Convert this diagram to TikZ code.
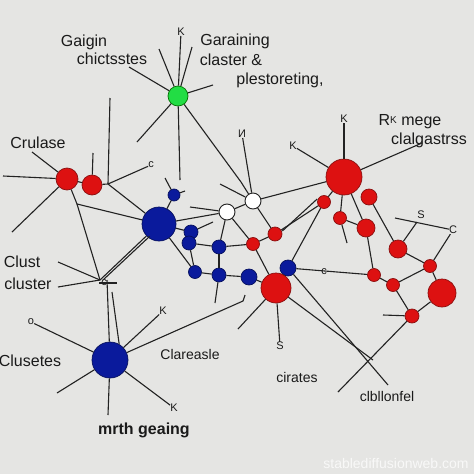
\documentclass[tikz,border=0pt]{standalone}
\usepackage{fontspec}
\setmainfont{Liberation Sans}
\definecolor{bgc}{HTML}{E5E5E3}
\definecolor{linec}{HTML}{222222}
\definecolor{nred}{HTML}{DD1111}
\definecolor{nreddark}{HTML}{8A1010}
\definecolor{nblue}{HTML}{0A1A9C}
\definecolor{nbluedark}{HTML}{06105E}
\definecolor{ngreen}{HTML}{22DD44}
\definecolor{textc}{HTML}{1A1A1A}
\tikzset{
  ln/.style={draw=linec, line width=1.1pt},
  rn/.style={circle, fill=nred, draw=nreddark, line width=0.7pt, inner sep=0pt},
  bn/.style={circle, fill=nblue, draw=nbluedark, line width=0.7pt, inner sep=0pt},
  wn/.style={circle, fill=white, draw=linec, line width=0.9pt, inner sep=0pt},
  gn/.style={circle, fill=ngreen, draw=green!45!black, line width=0.7pt, inner sep=0pt},
  lbl/.style={font=\fontsize{16}{19}\selectfont, text=textc, inner sep=0pt},
  mlbl/.style={font=\fontsize{14}{17}\selectfont, text=textc, inner sep=0pt},
  slbl/.style={font=\fontsize{11}{13}\selectfont, text=textc, inner sep=0pt},
}
\begin{document}
\begin{tikzpicture}[x=1pt,y=-1pt]
\fill[bgc] (0,0) rectangle (474,474);
\useasboundingbox (0,0) rectangle (474,474);

% nodes
\node[gn, minimum size=20pt] (g) at (178,96) {};
\node[rn, minimum size=22pt] (rA) at (67,179) {};
\node[rn, minimum size=20pt] (rB) at (92,185) {};
\node[bn, minimum size=34pt] (bC) at (159,224) {};
\node[bn, minimum size=12pt] (bD) at (174,195) {};
\node[bn, minimum size=14pt] (bE1) at (191,232) {};
\node[bn, minimum size=14pt] (bE2) at (189,243) {};
\node[bn, minimum size=14pt] (bF) at (219,247) {};
\node[bn, minimum size=13pt] (bG) at (195,272) {};
\node[bn, minimum size=14pt] (bH) at (219,275) {};
\node[bn, minimum size=16pt] (bI) at (249,277) {};
\node[bn, minimum size=16pt] (bJ) at (288,268) {};
\node[wn, minimum size=16pt] (wK) at (227,212) {};
\node[wn, minimum size=16pt] (wL) at (253,201) {};
\node[rn, minimum size=13pt] (rM) at (253,244) {};
\node[rn, minimum size=14pt] (rN) at (275,234) {};
\node[rn, minimum size=30pt] (rO) at (276,288) {};
\node[rn, minimum size=36pt] (rP) at (344,177) {};
\node[rn, minimum size=13pt] (rQ) at (324,202) {};
\node[rn, minimum size=13pt] (rR) at (340,218) {};
\node[rn, minimum size=16pt] (rS) at (369,197) {};
\node[rn, minimum size=18pt] (rT) at (366,228) {};
\node[rn, minimum size=18pt] (rU) at (398,249) {};
\node[rn, minimum size=13pt] (rV) at (430,266) {};
\node[rn, minimum size=13pt] (rW) at (374,275) {};
\node[rn, minimum size=13pt] (rX) at (393,285) {};
\node[rn, minimum size=28pt] (rY) at (442,293) {};
\node[rn, minimum size=14pt] (rZ) at (412,316) {};
\node[bn, minimum size=36pt] (bBL) at (110,360) {};

% free ends
\coordinate (k1) at (77,204);
\coordinate (j1) at (108,184);
\coordinate (cj) at (100,280);
\coordinate (cv) at (107,280);
\coordinate (gk) at (241,182);
\coordinate (zx) at (373,360);

% text labels
\node[lbl] (t1) at (84,42) {Gaigin};
\node[lbl] (t2) at (112,59) {chictsstes};
\node[lbl] (t3) at (235,41) {Garaining};
\node[lbl] (t4) at (231,60) {claster \&};
\node[lbl] (t5) at (280,80) {plestoreting,};
\node[lbl] (t6) at (38,143) {Crulase};
\node[lbl] (t7) at (410,122) {R\raisebox{0.3ex}{\fontsize{10}{10}\selectfont K} mege};
\node[lbl] (t8) at (429,140) {clalgastrss};
\node[lbl] (t9) at (22,262) {Clust};
\node[lbl] (t10) at (28,284) {cluster};
\node[lbl] (t11) at (30,361) {Clusetes};
\node[mlbl] (t12) at (190,354) {Clareasle};
\node[lbl, font=\fontsize{16}{19}\selectfont\bfseries] (t13) at (144,430) {mrth geaing};
\node[mlbl] (t14) at (297,377) {cirates};
\node[mlbl] (t15) at (387,396) {clbllonfel};
\node[text=white, opacity=0.75, font=\fontsize{14}{17}\selectfont, inner sep=0pt] (wm) at (396,463) {stablediffusionweb.com};

% small marks
\node[slbl] (m1) at (181,32) {K};
\node[slbl] (m2) at (344,119) {K};
\node[slbl] (m3) at (293,146) {K};
\node[slbl] (m4) at (242,134) {И};
\node[slbl] (m5) at (151,165) {c};
\node[slbl] (m6) at (104,283) {c};
\node[slbl] (m7) at (31,322) {o};
\node[slbl] (m8) at (163,311) {K};
\node[slbl] (m9) at (174,408) {K};
\node[slbl] (m10) at (280,346) {S};
\node[slbl] (m11) at (421,215) {S};
\node[slbl] (m12) at (453,230) {C};
\node[slbl] (m13) at (324,272) {c};

% edges: green
\draw[ln] (g) -- (129,67);
\draw[ln] (g) -- (159,49);
\draw[ln] (g) -- (m1);
\draw[ln] (g) -- (192,47);
\draw[ln] (g) -- (213,85);
\draw[ln] (g) -- (137,142);
\draw[ln] (g) -- (180,180);
\draw[ln] (g) -- (gk) -- (wL);
\draw[ln] (110,98) -- (j1);

% left reds
\draw[ln] (rA) -- (3,176);
\draw[ln] (rA) -- (12,232);
\draw[ln] (rA) -- (32,152);
\draw[ln] (rA) -- (rB);
\draw[ln] (rA) -- (k1) -- (bC);
\draw[ln] (k1) -- (cj);
\draw[ln] (rB) -- (j1) -- (bC);
\draw[ln] (rB) -- (93,153);
\draw[ln] (j1) -- (m5);

% cluster junction
\draw[ln] (58,287) -- (cj);
\draw[ln] (58,262) -- (cj);
\draw[ln] (cj) -- (bC);
\draw[ln] ([xshift=3pt]cj) -- ([xshift=3pt]bC.south west);
\draw[ln] (cv) -- (bBL);
\draw[ln] (bBL.60) -- (112,292);
\draw[ln] (m6.west) ++(-2,0) -- ++(18,0);

% bottom blue
\draw[ln] (bBL) -- (m7);
\draw[ln] (bBL) -- (57,393);
\draw[ln] (bBL) -- (108,415);
\draw[ln] (bBL) -- (m9);
\draw[ln] (bBL) -- (m8);
\draw[ln] (bBL) -- (243,301) -- ++(2,-6);

% center blue cluster
\draw[ln] (bC) -- (bD);
\draw[ln] (bD) -- (165,178);
\draw[ln] (bD) -- (185,191);
\draw[ln] (bC) -- (wK);
\draw[ln] (bC) -- (bE1);
\draw[ln] (bC) -- (bG);
\draw[ln] (bE1) -- (213,222);
\draw[ln] (bE2) -- (bF);
\draw[ln] (bE2) -- (bG);
\draw[ln] (bF) -- (wK);
\draw[ln] (bF) -- (rM);
\draw[ln] (bF) -- (bH);
\draw[ln] (bG) -- (bH);
\draw[ln] (bH) -- (bI);
\draw[ln] (bH) -- (215,303);
\draw[ln] (bI) -- (rO);

% whites
\draw[ln] (wK) -- (wL);
\draw[ln] (wK) -- (rM);
\draw[ln] (wK) -- (190,207);
\draw[ln] (wL) -- (rN);
\draw[ln] (wL) -- (rP);
\draw[ln] (wL) -- (m4);
\draw[ln] (wL) -- (220,184);

% center reds
\draw[ln] (rM) -- (rN);
\draw[ln] (rM) -- (rO);
\draw[ln] (rN) -- (rQ);
\draw[ln] ([yshift=3pt]rN.east) -- ([yshift=3pt]rQ.west);
\draw[ln] (bJ) -- (rQ);
\draw[ln] (bJ) -- (rO);
\draw[ln] (bJ) -- (rW);
\draw[ln] (bJ) -- (388,385);
\draw[ln] (rO) -- (zx);
\draw[ln] (rZ) -- (338,392);
\draw[ln] (rO) -- (238,329);
\draw[ln] (rO) -- (m10);

% right reds
\draw[ln] (m3) -- (rP);
\draw[ln] (rP) -- (m2);
\draw[ln] (rP) -- (422,143);
\draw[ln] (rP) -- (rQ);
\draw[ln] (rP) -- (rR);
\draw[ln] (rR) -- (347,243);
\draw[ln] (rR) -- (rT);
\draw[ln] (rP) -- (rT);
\draw[ln] (rS) -- (rU);
\draw[ln] (rT) -- (rW);
\draw[ln] (rW) -- (rX);
\draw[ln] (rX) -- (rV);
\draw[ln] (rV) -- (rU);
\draw[ln] (rU) -- (417,222);
\draw[ln] (395,218) -- (m12);
\draw[ln] (rV) -- (m12);
\draw[ln] (rV) -- (rY);
\draw[ln] (rX) -- (rZ);
\draw[ln] (rY) -- (rZ);
\draw[ln] (rZ) -- (383,315);
\end{tikzpicture}
\end{document}
